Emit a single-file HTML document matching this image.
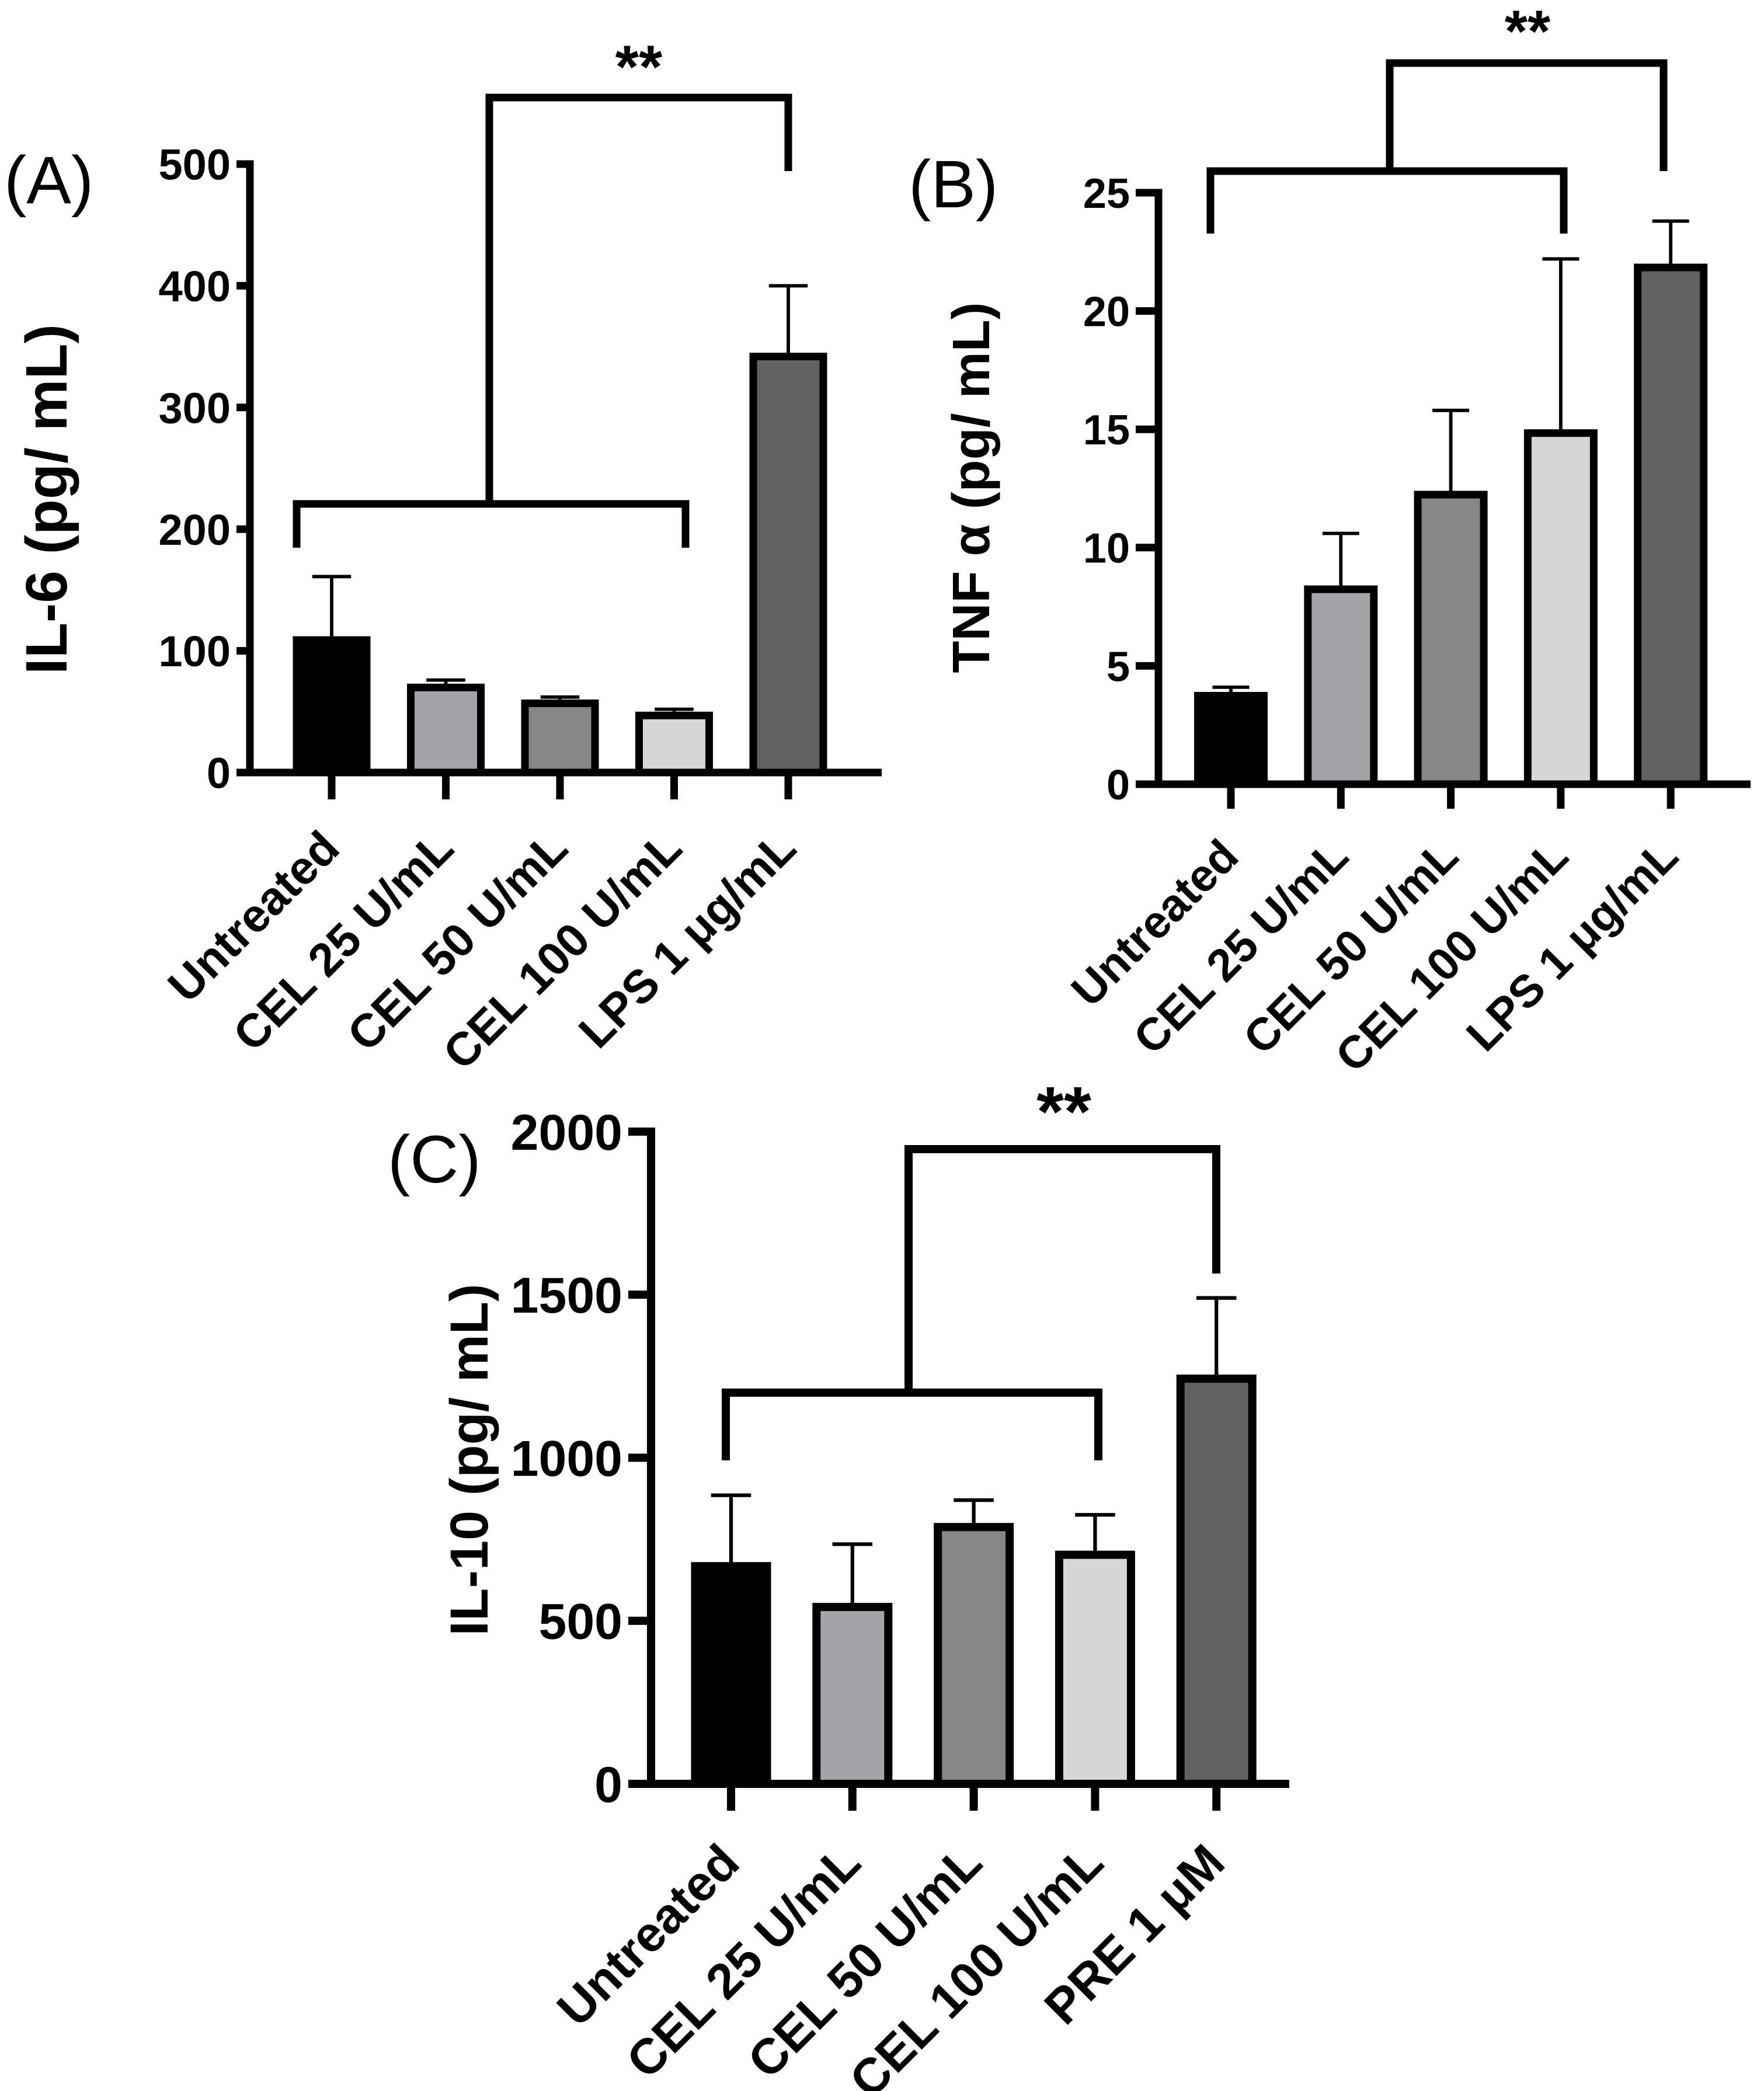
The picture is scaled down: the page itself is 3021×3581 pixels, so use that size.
<!DOCTYPE html>
<html><head><meta charset="utf-8"><style>
html,body{margin:0;padding:0;background:#fff}
svg{display:block}
text{font-family:"Liberation Sans",sans-serif;font-weight:bold;fill:#000}
text.plabel{font-weight:normal}
</style></head><body>
<svg id="fig" width="3021" height="3581" viewBox="0 0 3021 3581" xmlns="http://www.w3.org/2000/svg">
<rect width="3021" height="3581" fill="#fff"/>
</svg>
<script>
const categoriesAB = ["Untreated","CEL 25 U/mL","CEL 50 U/mL","CEL 100 U/mL","LPS 1 \u03BCg/mL"];
const categoriesC = ["Untreated","CEL 25 U/mL","CEL 50 U/mL","CEL 100 U/mL","PRE 1 \u03BCM"];
const il6Values = [112, 73, 60, 50, 345];
const il6ErrTop = [161, 76, 62, 52, 400];
const il6Ticks = [0, 100, 200, 300, 400, 500];
const tnfValues = [3.9, 8.4, 12.4, 15.0, 22.0];
const tnfErrTop = [4.1, 10.6, 15.8, 22.2, 23.8];
const tnfTicks = [0, 5, 10, 15, 20, 25];
const il10Values = [680, 555, 800, 715, 1255];
const il10ErrTop = [885, 735, 870, 825, 1490];
const il10Ticks = [0, 500, 1000, 1500, 2000];
const fills = ["#000000","#a3a3a8","#868686","#d6d6d6","#616161"];

const NS="http://www.w3.org/2000/svg";
const svg=document.getElementById('fig');
function mk(tag,attrs,parent){const e=document.createElementNS(NS,tag);for(const k in attrs)e.setAttribute(k,attrs[k]);(parent||svg).appendChild(e);return e;}

function panel(p){
  const g=mk('g',{});
  
  
  const y=v=>p.y0-(v-p.vmin)/(p.vmax-p.vmin)*(p.y0-p.yTop);
  const x=i=>p.cx0+i*p.step;
  const lw=p.lw;
  const lab=mk('text',{x:p.lab[0],y:p.lab[1],'font-size':p.labSize,'class':'plabel'},g);
  
  
  lab.textContent=p.labText;
  p.values.forEach((v,i)=>{
    const eb=mk('line',{x1:x(i),x2:x(i),y1:y(v),y2:y(p.err[i]),stroke:'#000','stroke-width':lw*0.45},g);
    
    
    const cap=mk('line',{x1:x(i)-p.bw*0.25,x2:x(i)+p.bw*0.25,y1:y(p.err[i]),y2:y(p.err[i]),stroke:'#000','stroke-width':lw*0.45},g);
    
    
    const r=mk('rect',{x:x(i)-p.bw/2+lw/2,y:y(v)+lw/2,width:p.bw-lw,height:Math.max(0,y(0)-y(v)-lw/2),fill:fills[i],stroke:'#000','stroke-width':lw},g);
    
    
  });
  const ya=mk('line',{x1:p.ax,x2:p.ax,y1:y(p.ticks[p.ticks.length-1])-lw/2,y2:p.y0,stroke:'#000','stroke-width':lw},g);
  
  
  const xa=mk('line',{x1:p.xl,x2:p.xr,y1:p.y0,y2:p.y0,stroke:'#000','stroke-width':lw},g);
  
  
  p.ticks.forEach(t=>{
    const tl=mk('line',{x1:p.xl,x2:p.ax,y1:y(t),y2:y(t),stroke:'#000','stroke-width':lw},g);
    
    
    const tt=mk('text',{x:p.xl-10,y:y(t)+p.fs*0.36,'font-size':p.fs,'text-anchor':'end'},g);
    
    
    tt.textContent=t;
  });
  p.cats.forEach((c,i)=>{
    const tk=mk('line',{x1:x(i),x2:x(i),y1:p.y0,y2:p.y0+p.tickLen,stroke:'#000','stroke-width':lw},g);
    
    
    const ax_=x(i)+p.xfs*0.22, ay_=p.y0+p.tickLen+p.xfs*1.1;
    const tx=mk('text',{x:ax_,y:ay_,'font-size':p.xfs,'text-anchor':'end',transform:`rotate(-45 ${ax_} ${ay_})`},g);
    
    
    tx.textContent=c;
  });
  const yt=mk('text',{x:p.yt[0],y:p.yt[1],'font-size':p.ytfs,'text-anchor':'middle',transform:`rotate(-90 ${p.yt[0]} ${p.yt[1]})`},g);
  
  
  yt.textContent=p.ytitle;
  const b=p.br;
  const br=mk('path',{d:`M${b.lx1},${b.lleg} V${b.ly} H${b.lx2} V${b.lleg} M${b.vx},${b.ly} V${b.ty} H${b.tx2} V${b.tleg}`,fill:'none',stroke:'#000','stroke-width':lw,'stroke-linejoin':'miter'},g);
  
  
  const st=mk('text',{x:b.sx,y:b.sy,'font-size':p.fs*1.4,'text-anchor':'middle'},g);
  
  
  st.textContent='**';
}

panel({name:'panel-a-il6',labText:'(A)',lab:[7,348],labSize:115,values:il6Values,err:il6ErrTop,ticks:il6Ticks,vmin:0,vmax:500,
  y0:1323,yTop:281,ax:428,xl:405,xr:1510,cx0:568,step:195.5,bw:133,lw:13,tickLen:46,fs:74,xfs:80,cats:categoriesAB,
  yt:[114,855],ytfs:100,ytitle:'IL-6 (pg/ mL)',
  br:{lx1:508,lx2:1174,ly:863,lleg:938,vx:838,ty:167,tx2:1350,tleg:293,sx:1094,sy:150}});
panel({name:'panel-b-tnf',labText:'(B)',lab:[1556,355],labSize:115,values:tnfValues,err:tnfErrTop,ticks:tnfTicks,vmin:0,vmax:25,
  y0:1343,yTop:330,ax:1984,xl:1945,xr:2998,cx0:2108,step:188.3,bw:126,lw:13,tickLen:42,fs:72,xfs:78,cats:categoriesAB,
  yt:[1694,835],ytfs:90,ytitle:'TNF \u03B1 (pg/ mL)',
  br:{lx1:2073,lx2:2678,ly:293,lleg:400,vx:2380,ty:108,tx2:2849,tleg:293,sx:2616,sy:88}});
panel({name:'panel-c-il10',labText:'(C)',lab:[664,2025],labSize:115,values:il10Values,err:il10ErrTop,ticks:il10Ticks,vmin:0,vmax:2000,
  y0:3055,yTop:1938,ax:1115,xl:1076,xr:2208,cx0:1252,step:207.8,bw:137,lw:14,tickLen:46,fs:86,xfs:85,cats:categoriesC,
  yt:[835,2500],ytfs:92,ytitle:'IL-10 (pg/ mL)',
  br:{lx1:1243,lx2:1881,ly:2385,lleg:2501,vx:1556,ty:1968,tx2:2083,tleg:2181,sx:1822,sy:1945}});
</script>
</body></html>
